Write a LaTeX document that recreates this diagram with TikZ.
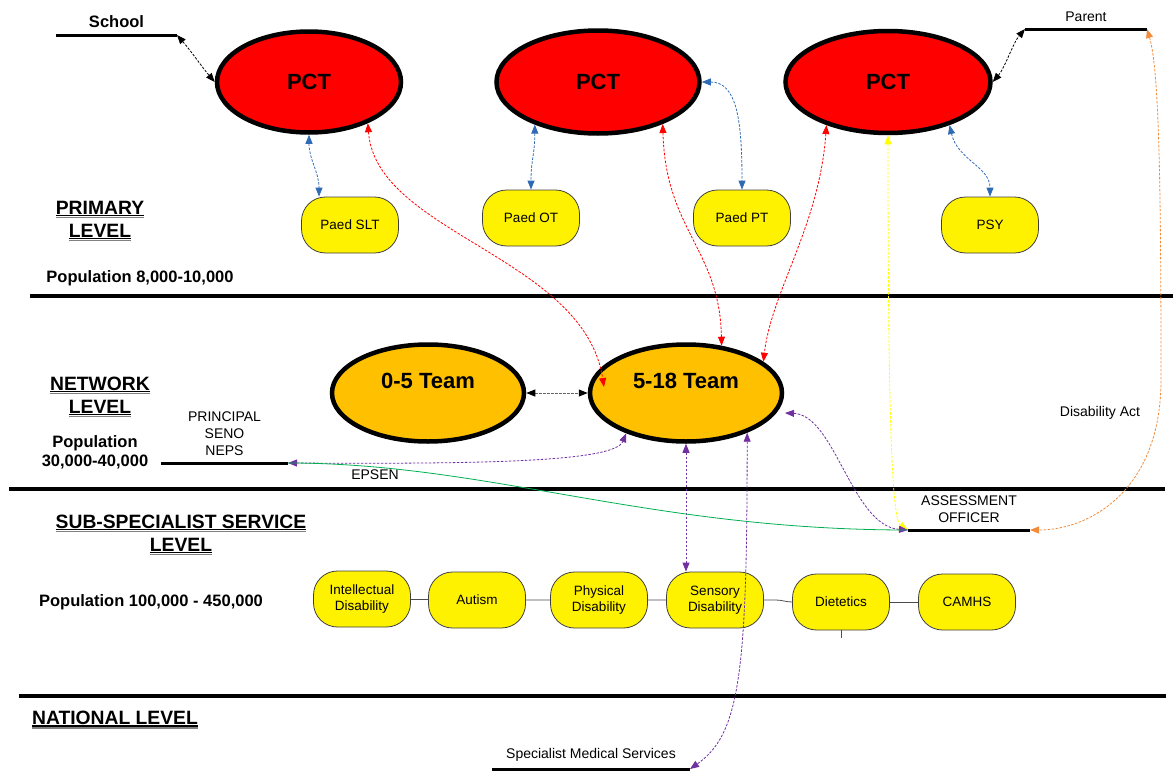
\documentclass[tikz,border=0pt]{standalone}
\usepackage{fontspec}
\setmainfont{Liberation Sans}
\usepackage{xcolor}
\usetikzlibrary{shapes.geometric,arrows.meta,calc}

\definecolor{pctred}{HTML}{FF0000}
\definecolor{teamorange}{HTML}{FFC000}
\definecolor{linkblue}{HTML}{2E6AB5}
\definecolor{linkpurple}{HTML}{7030A0}
\definecolor{linkgreen}{HTML}{00B050}
\definecolor{linkorange}{HTML}{F08C3C}
\definecolor{linkyellow}{HTML}{FFFF00}

% black rule with a grey one under it
\newcommand\dblul[1]{\vtop{\hbox{#1}\kern0.6pt\hrule height 1.4pt\kern0.6pt{\color{gray}\hrule height 1.4pt}}}

\begin{document}
\begin{tikzpicture}[x=1pt,y=-1pt,
    pct/.style={ellipse,draw,line width=4.5pt,fill=pctred,font=\fontsize{22}{26}\selectfont\bfseries},
    team/.style={ellipse,draw,line width=4.5pt,fill=teamorange,minimum width=192pt,minimum height=97pt,text depth=24pt,font=\fontsize{22}{26}\selectfont\bfseries},
    role/.style={draw=black!75,fill=yellow,rounded corners=24pt,minimum width=97pt,minimum height=56pt,align=center,line width=0.8pt,font=\fontsize{13.5}{16}\selectfont},
    lvl/.style={align=center,font=\fontsize{19.3}{23}\selectfont\bfseries},
    pop/.style={align=center,font=\fontsize{16.5}{19}\selectfont\bfseries},
    small/.style={align=center,font=\fontsize{14}{17}\selectfont},
    bar/.style={line width=3pt},
    level/.style={line width=4pt},
    link/.style={line width=0.8pt,dash pattern=on 2.5pt off 1.5pt,>={Triangle[length=9pt,width=7pt]},<->},
    chain/.style={draw=black!70,line width=0.8pt},
]
\useasboundingbox (0,0) rectangle (1173,771);

% level separators
\foreach \y/\a/\b in {296/30/1173,489/9/1165,696/19/1166}
    \draw[level] (\a,\y) -- (\b,\y);

% headings
\node[lvl] (primary) at (100,221) {\dblul{PRIMARY}\\\dblul{LEVEL}};
\node[pop] (pop1) at (140,278) {Population 8,000-10,000};
\node[lvl] (network) at (100,397) {\dblul{NETWORK}\\\dblul{LEVEL}};
\node[pop] (pop2) at (95,452) {Population\\30,000-40,000};
\node[lvl] (subspec) at (181,535) {\dblul{SUB-SPECIALIST SERVICE}\\\dblul{LEVEL}};
\node[pop] (pop3) at (151,602) {Population 100,000 - 450,000};
\node[lvl] (national) at (115,720) {\dblul{NATIONAL LEVEL}};

% primary care teams and therapists
\node[pct,minimum width=184pt,minimum height=101pt] (pct1) at (309,82) {PCT};
\node[pct,minimum width=203pt,minimum height=103pt] (pct2) at (598,82) {PCT};
\node[pct,minimum width=205pt,minimum height=102pt] (pct3) at (888,82) {PCT};

\node[role] (slt) at (350,225) {Paed SLT};
\node[role] (ot) at (531,218) {Paed OT};
\node[role] (pt) at (742,218) {Paed PT};
\node[role] (psy) at (990,225) {PSY};

% network teams
\node[team] (team05) at (428,393) {0-5 Team};
\node[team] (team518) at (686,393) {5-18 Team};

% sub-specialist services
\foreach \n/\x/\y/\t in {intel/362/599/Intellectual\\Disability,autism/477/600/Autism,phys/599/600/Physical\\Disability,
                         sens/715/600/Sensory\\Disability,diet/841/602/Dietetics,camhs/967/602/CAMHS}
    \node[role] (\n) at (\x,\y) {\t};

\draw[chain] (intel) -- (autism) -- (phys) -- (sens);
\draw[chain] (sens.east) -- ++(12,0) .. controls +(6,0) and +(-6,0) .. (diet.west);
\draw[chain] (diet) -- (camhs);
\draw[chain] (diet.south) -- ++(0,8);

% people and bodies
\coordinate (schoolL) at (56,35);
\coordinate (schoolR) at (177,35);
\coordinate (parentL) at (1025,29);
\coordinate (parentR) at (1147,29);
\coordinate (prinL) at (161,463);
\coordinate (prinR) at (288,463);
\coordinate (asmL) at (908,530);
\coordinate (asmR) at (1030,530);
\coordinate (smsL) at (492,769);
\coordinate (smsR) at (690,769);

\draw[bar] (schoolL) -- (schoolR) node[midway,above=3pt,font=\fontsize{16.5}{19}\selectfont\bfseries] (school) {School};
\draw[bar] (parentL) -- (parentR) node[midway,above=3pt,small] (parent) {Parent};
\draw[bar] (prinL) -- (prinR) node[midway,above=3pt,small] (principal) {PRINCIPAL\\SENO\\NEPS};
\draw[bar] (asmL) -- (asmR) node[midway,above=3pt,small] (assess) {ASSESSMENT\\OFFICER};
\draw[bar] (smsL) -- (smsR) node[midway,above=3pt,small] (sms) {Specialist Medical Services};

\node[small] (epsen) at (375,475) {EPSEN};
\node[small] (disact) at (1100,413) {Disability Act};

% links
\draw[link,black] (schoolR) .. controls +(14,16) and +(-12,-14) .. (pct1.west);
\draw[link,black] (pct3.east) .. controls +(12,-14) and +(-12,14) .. (parentL);

\draw[link,linkblue] (pct1.south) .. controls +(0,25) and +(0,-25) .. ($(slt.north)+(-31,0)$);
\draw[link,linkblue] (pct2.214) .. controls +(0,30) and +(0,-30) .. (ot.north);
\draw[link,linkblue] (pct2.east) .. controls +(35,0) and +(0,-70) .. (pt.north);
\draw[link,linkblue] (pct3.325) .. controls +(8,35) and +(0,-30) .. (psy.north);

\draw[link,pctred] (pct1.325) .. controls +(8,110) and +(-20,-130) .. ($(team518.center)+(-82,-6)$);
\draw[link,pctred] (pct2.327) .. controls +(3,107) and +(-2,-97) .. (team518.53);
\draw[link,pctred] (pct3.215) .. controls +(-7,100) and +(8,-70) .. (team518.22);

\draw[link,black!60,>={Triangle[length=9pt,width=7pt,color=black]}] (team05.east) -- (team518.west);

\draw[link,linkyellow] (pct3.south) .. controls +(0,285) and +(-16,-10) .. (asmL);
\draw[link,linkorange] (parentR) .. controls +(12,40) and +(0,-200) .. (1161,380)
    .. controls +(0,110) and +(60,0) .. (asmR);

\draw[link,linkpurple] (prinR) .. controls +(190,1) and +(-12,29) .. (team518.214);
\draw[link,linkpurple] (team518.south) -- (team518.south |- sens.north);
\draw[link,linkpurple] (team518.327) .. controls +(0,240) and +(50,-35) .. (smsR);
\draw[link,linkpurple] ($(team518.center)+(99,20)$) .. controls +(50,2) and +(-56,-4) .. (asmL);

\draw[linkgreen,line width=0.8pt] (prinR) .. controls +(200,0) and +(-260,0) .. (asmL);

\end{tikzpicture}
\end{document}
